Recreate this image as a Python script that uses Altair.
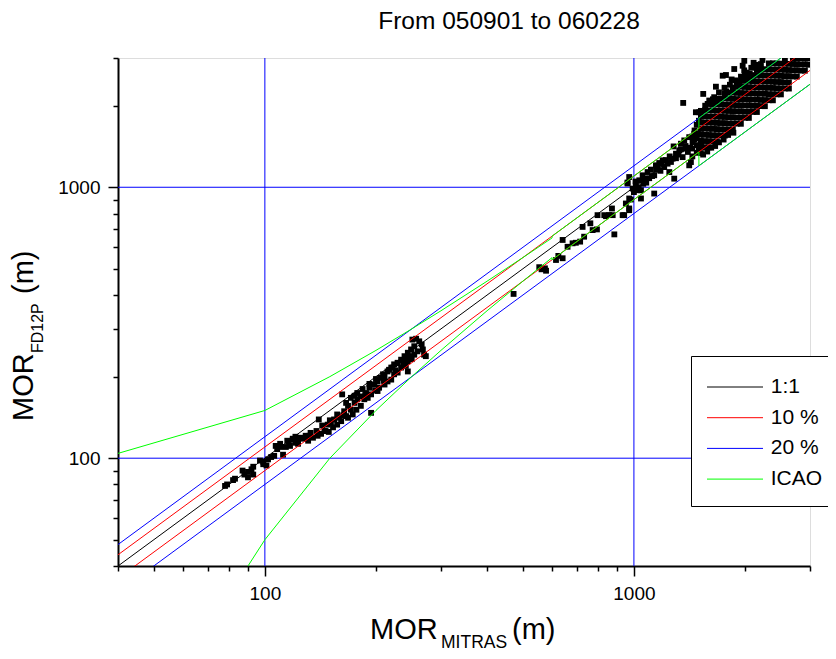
import altair as alt
import pandas as pd

# ---------------- data ----------------
title_text = "From 050901 to 060228"
x_title = ["MOR", "MITRAS", "(m)"]
y_title = ["MOR", "FD12P", "(m)"]

# low visibility (x 78-123)
region_a = [(78, 79), (79, 80), (82, 83), (83, 84), (87, 90), (88, 87), (90, 89), (90, 85),
            (92, 91), (93, 87), (93, 93), (97, 98), (99, 97), (99, 95), (101, 94), (102, 99),
            (104, 101), (106, 102), (108, 108), (110, 110), (112, 103), (114, 110), (116, 115),
            (119, 117), (121, 120), (123, 116)]

# band 107-273 m
region_b = [(107, 111), (110, 113), (115, 116), (119, 118), (121, 114), (125, 119), (129, 121),
            (133, 124), (140, 139), (138, 126), (143, 132), (145, 126), (148, 133), (151, 135),
            (154, 139), (157, 145), (159, 141), (162, 172), (164, 149), (168, 156), (171, 151),
            (175, 160), (178, 165), (182, 169), (188, 174), (192, 182), (194, 147), (198, 187),
            (202, 192), (206, 198), (211, 201), (215, 209), (220, 216), (224, 222), (229, 225),
            (234, 231), (239, 238), (241, 219), (244, 245), (249, 252), (254, 259), (251, 274),
            (257, 276), (262, 270), (266, 263), (268, 252), (270, 241), (273, 238), (244, 209),
            (229, 207), (220, 195), (211, 187), (202, 177), (190, 167), (182, 156), (173, 145),
            (168, 141), (161, 137), (153, 130), (146, 126), (139, 121), (131, 116), (123, 113),
            (117, 111), (127, 118), (135, 119), (142, 123), (149, 125), (157, 133), (166, 143),
            (177, 151), (186, 165), (194, 172), (204, 182), (215, 192), (224, 204), (234, 216),
            (244, 228), (254, 241), (259, 248), (246, 238), (236, 230), (229, 224), (222, 216),
            (217, 212), (209, 204), (200, 196), (192, 188), (184, 180), (178, 174), (171, 167),
            (166, 160), (175, 170), (132, 121), (150, 138), (163, 144), (187, 171), (199, 178),
            (210, 193), (226, 211), (238, 222), (250, 232)]

# sparse middle range
region_c = [(472, 404), (554, 507), (562, 498), (574, 502), (578, 492), (615, 539), (624, 558),
            (641, 547), (641, 639), (661, 603), (682, 621), (696, 624), (715, 630), (733, 657),
            (726, 714), (762, 736), (773, 695), (794, 699), (797, 789), (831, 789), (840, 782),
            (872, 835), (876, 789), (885, 670), (941, 789), (951, 871), (971, 909), (971, 835),
            (961, 1041)]

# 850-1520 m
region_d = [(857, 790), (932, 789), (971, 823), (971, 1091), (961, 1032), (981, 901), (992, 989),
            (1012, 1017), (1023, 975), (1045, 975), (1034, 1061), (1056, 1107), (1045, 909),
            (1066, 1076), (1089, 1138), (1112, 1162), (1135, 1107), (1135, 948), (1147, 1205),
            (1171, 1229), (1196, 1257), (1208, 1187), (1234, 1222), (1247, 1138), (1273, 1275),
            (1281, 1415), (1286, 1076), (1300, 1330), (1327, 1368), (1341, 1448), (1355, 1292),
            (1369, 1489), (1383, 1388), (1412, 1531), (1412, 1205), (1427, 1239), (1442, 1468),
            (1457, 1576), (1503, 1892), (1519, 1644), (1519, 1448), (1100, 1080), (1150, 1160),
            (1180, 1150), (1220, 1260), (1260, 1240), (1300, 1280), (1340, 1380), (1380, 1420),
            (1420, 1400), (1460, 1500), (1480, 1430), (1250, 1300), (1190, 1220), (1120, 1100),
            (1080, 1040), (1030, 1000), (1000, 960), (1010, 1050), (1060, 1030), (1160, 1180),
            (1320, 1320), (1400, 1350), (1440, 1540), (1490, 1580), (1440, 1300), (1440, 1390),
            (1460, 1620), (1480, 1340), (1480, 1520), (1480, 1700), (1500, 1400), (1500, 1760)]

# scattered high readings and low readings around the dense band
region_outliers = [(1360, 2048), (1541, 2211), (1584, 2031), (1668, 2351), (1740, 2581),
                   (1776, 2596), (1870, 2732), (1971, 2809), (1991, 2930), (1472, 1892),
                   (1560, 2000), (1600, 2090), (1650, 2150), (1700, 2240), (1760, 2330),
                   (1820, 2390), (1880, 2480), (1950, 2560), (2020, 2650), (2080, 2760),
                   (2150, 2830), (2230, 2950), (1700, 2120), (1840, 2500), (1990, 2700),
                   (2110, 2880), (1620, 2030), (1780, 2260), (1930, 2450), (2060, 2620),
                   (2200, 2790), (1540, 1320), (1580, 1355), (1620, 1400), (1660, 1420),
                   (1700, 1465), (1750, 1500), (1800, 1560), (1860, 1590), (1519, 1914),
                   (1637, 2112), (1764, 2223), (1901, 2452), (2049, 2582), (2208, 2848),
                   (1678, 2114), (1854, 2336), (1999, 2579), (2154, 2714)]

# dense band above 1500 m: MOR_MITRAS -> MOR_FD12P readings
dense_band = {
    1519: [1337, 1408, 1484, 1565, 1648, 1736, 1830],
    1557: [1406, 1481, 1562, 1646, 1733, 1826, 1923],
    1596: [1404, 1480, 1559, 1644, 1732, 1824, 1923],
    1637: [1478, 1557, 1642, 1730, 1822, 1920, 2022],
    1678: [1477, 1556, 1639, 1728, 1821, 1918, 2022],
    1721: [1554, 1637, 1726, 1819, 1916, 2019, 2125],
    1764: [1552, 1635, 1723, 1817, 1914, 2016, 2126],
    1809: [1634, 1720, 1814, 1912, 2013, 2122, 2234],
    1854: [1632, 1719, 1811, 1910, 2012, 2119, 2234],
    1901: [1717, 1808, 1907, 2009, 2116, 2230, 2348],
    1949: [1715, 1807, 1904, 2008, 2115, 2228, 2349],
    1999: [1805, 1901, 2005, 2113, 2225, 2345, 2469],
    2049: [1803, 1899, 2002, 2111, 2223, 2342, 2469],
    2101: [1897, 1998, 2107, 2221, 2338, 2465, 2595],
    2154: [1896, 1997, 2105, 2219, 2337, 2462, 2596],
    2208: [1994, 2100, 2215, 2334, 2458, 2590, 2727],
    2264: [1992, 2099, 2212, 2332, 2456, 2588, 2728],
    2321: [2096, 2207, 2328, 2453, 2583, 2723, 2866],
    2380: [2094, 2206, 2325, 2451, 2582, 2720, 2868],
    2440: [2203, 2320, 2447, 2579, 2716, 2862],
    2502: [2202, 2319, 2445, 2577, 2715, 2860],
    2565: [2316, 2439, 2573, 2711, 2855, 2990],
    2630: [2314, 2438, 2570, 2709, 2854],
    2696: [2564, 2704, 2850, 2985],
    2764: [2562, 2700, 2847, 2990],
    2834: [2695, 2843, 2995],
    2906: [2694, 2839, 2993],
    2979: [2833, 2988],
}

# reference lines
ref_x = [40, 3000]
one_to_one_y = [40, 3000]
plus10_y = [44, 3300]
minus10_y = [36, 2700]
plus20_y = [48, 3600]
minus20_y = [32, 2400]
icao_upper_x = [10, 100, 150, 200, 250, 300, 400, 500, 600, 600, 1500, 1500, 3000]
icao_upper_y = [60, 150, 200, 250, 300, 350, 450, 550, 650, 660, 1650, 1800, 3600]
icao_lower_x = [90, 100, 150, 200, 250, 300, 400, 500, 600, 600, 1500, 1500, 3000]
icao_lower_y = [40, 50, 100, 150, 200, 250, 350, 450, 550, 540, 1350, 1200, 2400]

grid_values = [100, 1000]
tick_values = [40, 50, 60, 70, 80, 90, 100, 200, 300, 400, 500, 600, 700, 800, 900,
               1000, 2000, 3000]
series_names = ["1:1", "10 %", "20 %", "ICAO"]
series_colors = ["#000000", "#ff0000", "#0000ff", "#00ff00"]

# ---------------- tables ----------------
pts = region_a + region_b + region_c + region_d + region_outliers
for cx, ys in dense_band.items():
    pts += [(cx, yy) for yy in ys]
points_df = pd.DataFrame(pts, columns=["mitras", "fd12p"])


def line_df(series, parts):
    rows = []
    for part, (xs, ys) in enumerate(parts):
        for i, (a, b) in enumerate(zip(xs, ys)):
            rows.append({"series": series, "part": part, "i": i, "mitras": a, "fd12p": b})
    return pd.DataFrame(rows)


df_11 = line_df("1:1", [(ref_x, one_to_one_y)])
df_10 = line_df("10 %", [(ref_x, plus10_y), (ref_x, minus10_y)])
df_20 = line_df("20 %", [(ref_x, plus20_y), (ref_x, minus20_y)])
df_icao = line_df("ICAO", [(icao_upper_x, icao_upper_y), (icao_lower_x, icao_lower_y)])

FONT = "Liberation Sans"
major = "datum.value == 100 || datum.value == 1000"
tick_size = {"condition": {"test": major, "value": 10}, "value": 5}
label_expr = f"({major}) ? datum.label : ''"

common_axis = dict(values=tick_values, format="d", labelExpr=label_expr, tickSize=tick_size,
                   tickWidth=1.5, tickColor="black", domainColor="black", domainWidth=2,
                   labelFontSize=19, labelFont=FONT, labelColor="black", labelPadding=8,
                   grid=False, title=None, labelOverlap=False, labelFlush=False)

x_enc = alt.X("mitras:Q", scale=alt.Scale(type="log", domain=[40, 3000], nice=False),
              axis=alt.Axis(**common_axis))
y_enc = alt.Y("fd12p:Q", scale=alt.Scale(type="log", domain=[40, 3000], nice=False),
              axis=alt.Axis(**common_axis))

grid_v = alt.Chart(pd.DataFrame({"mitras": grid_values})).mark_rule(
    color="#0000ff", strokeWidth=1).encode(x="mitras:Q")
grid_h = alt.Chart(pd.DataFrame({"fd12p": grid_values})).mark_rule(
    color="#0000ff", strokeWidth=1).encode(y="fd12p:Q")

points = alt.Chart(points_df).mark_square(size=34, color="black", opacity=1, clip=True).encode(
    x=x_enc, y=y_enc)

color_scale = alt.Scale(domain=series_names, range=series_colors)
legend = alt.Legend(orient="none", legendX=573, legendY=298, title=None,
                    symbolType="M-1.0345,0H2.8276", symbolSize=841, symbolStrokeWidth=1,
                    labelOffset=33.7, padding=16, rowPadding=5.7, strokeColor="black",
                    fillColor="white", labelFontSize=21, labelFont=FONT, labelColor="black",
                    labelLimit=0)


def line_layer(df):
    return alt.Chart(df).mark_line(strokeWidth=1, clip=True).encode(
        x="mitras:Q", y="fd12p:Q",
        color=alt.Color("series:N", scale=color_scale, legend=legend),
        detail="part:N", order="i:Q")


def text_layer(txt, x, y, size, align="left", angle=0):
    kw = dict(font=FONT, fontSize=size, align=align, baseline="alphabetic", color="black")
    if angle:
        kw["angle"] = angle
    return alt.Chart(pd.DataFrame({"t": [txt]})).mark_text(**kw).encode(
        text="t:N", x=alt.value(x), y=alt.value(y))


texts = [
    text_layer(title_text, 391, -29, 24.5, align="center"),
    text_layer(x_title[0], 252, 581, 29),
    text_layer(x_title[1], 323, 590, 17.5),
    text_layer(x_title[2], 394, 581, 29),
    text_layer(y_title[0], -85, 363, 29, angle=270),
    text_layer(y_title[1], -75, 295, 16, angle=270),
    text_layer(y_title[2], -85, 236, 29, angle=270),
]

chart = alt.layer(
    grid_v, grid_h, points,
    line_layer(df_11), line_layer(df_10), line_layer(df_20), line_layer(df_icao),
    *texts
).properties(
    width=692, height=508,
    autosize=alt.AutoSizeParams(type="none"),
    padding={"left": 110, "top": 50, "right": 18, "bottom": 85},
).configure_view(stroke=None).configure(background="white")

chart.save("out.html", embed_options={"renderer": "svg", "actions": False})
